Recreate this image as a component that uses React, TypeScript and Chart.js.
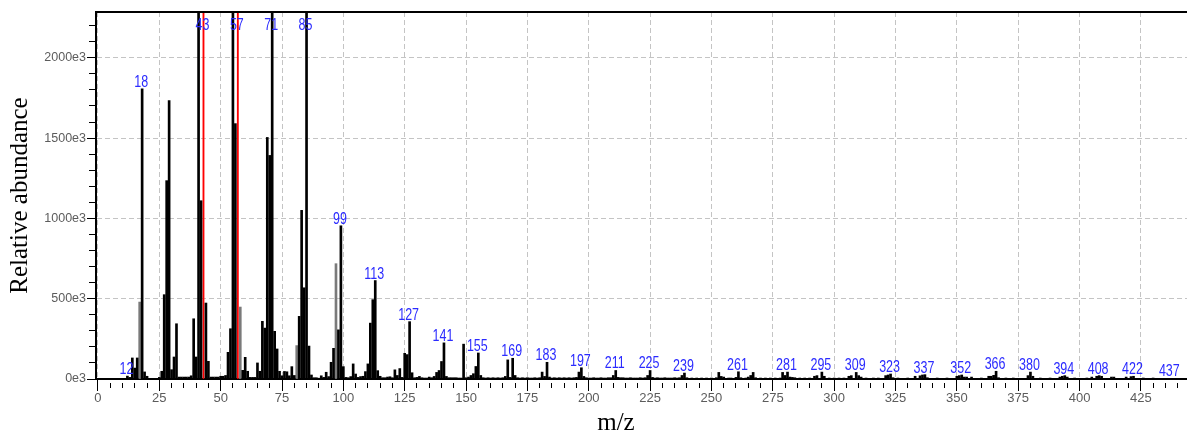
import React, { useEffect, useRef } from 'react';
import { Chart, registerables } from 'chart.js';

Chart.register(...registerables);

// ---- data (m/z and relative abundance in units of 1e3) ----
const MZ = [
  12, 13, 14, 15, 16, 17, 18, 19, 20, 25, 26, 27, 28, 29, 30, 31, 32, 33, 34, 35, 36, 37, 38, 39, 40,
  41, 42, 43, 44, 45, 46, 47, 48, 49, 50, 51, 52, 53, 54, 55, 56, 57, 58, 59, 60, 61, 62, 63, 64, 65,
  66, 67, 68, 69, 70, 71, 72, 73, 74, 75, 76, 77, 78, 79, 80, 81, 82, 83, 84, 85, 86, 87, 88, 89, 90,
  91, 92, 93, 94, 95, 96, 97, 98, 99, 100, 101, 102, 103, 104, 105, 106, 107, 108, 109, 110, 111, 112, 113, 114, 115,
  116, 117, 118, 119, 120, 121, 122, 123, 124, 125, 126, 127, 128, 129, 130, 131, 132, 133, 134, 135, 136, 137, 138, 139, 140,
  141, 142, 143, 144, 145, 146, 147, 148, 149, 150, 151, 152, 153, 154, 155, 156, 157, 158, 159, 160, 161, 162, 163, 164, 165,
  166, 167, 168, 169, 170, 171, 172, 173, 174, 175, 176, 177, 178, 179, 180, 181, 182, 183, 184, 185, 186, 187, 188, 189, 190,
  191, 192, 193, 194, 195, 196, 197, 198, 199, 200, 201, 202, 203, 204, 205, 206, 207, 208, 209, 210, 211, 212, 213, 214, 215,
  216, 217, 218, 219, 220, 221, 222, 223, 224, 225, 226, 227, 228, 229, 230, 231, 232, 233, 234, 235, 236, 237, 238, 239, 240,
  242, 244, 246, 248, 250, 252, 253, 254, 255, 257, 258, 260, 261, 262, 264, 265, 266, 267, 268, 270, 272, 274, 276, 278, 279,
  280, 281, 282, 283, 284, 286, 288, 290, 292, 293, 295, 296, 298, 300, 302, 304, 306, 307, 309, 310, 311, 313, 316, 318, 321,
  322, 323, 324, 326, 330, 333, 335, 336, 337, 338, 342, 346, 350, 351, 352, 353, 354, 356, 360, 363, 364, 365, 366, 367, 370,
  373, 379, 380, 381, 384, 388, 392, 393, 394, 395, 398, 403, 405, 407, 408, 409, 413, 414, 419, 421, 422, 426, 430, 437,
];

const ABUNDANCE = [
  18, 10, 131, 68, 131, 479, 1807, 44, 17, 10, 48, 525, 1235, 1733, 58, 137, 344, 12, 12, 12, 12, 12, 20, 375, 137,
  2600, 1110, 3000, 473, 110, 12, 12, 12, 12, 17, 17, 22, 166, 313, 2550, 1590, 2900, 448, 54, 135, 48, 10, 10, 10, 100,
  48, 359, 317, 1504, 1392, 2500, 297, 187, 48, 20, 47, 45, 20, 77, 22, 208, 390, 1050, 568, 2400, 205, 25, 8, 8, 5,
  20, 10, 42, 15, 104, 191, 718, 306, 954, 77, 10, 8, 15, 94, 31, 10, 15, 17, 46, 94, 348, 494, 613, 52, 17,
  8, 8, 12, 14, 8, 57, 22, 65, 10, 160, 152, 357, 39, 8, 10, 16, 8, 6, 6, 12, 8, 16, 41, 53, 109,
  225, 16, 8, 8, 8, 8, 6, 6, 217, 8, 12, 22, 33, 78, 162, 22, 8, 6, 8, 6, 8, 6, 8, 6, 8,
  16, 119, 10, 129, 22, 8, 6, 8, 6, 8, 6, 6, 8, 6, 8, 43, 16, 104, 12, 6, 8, 6, 8, 6, 8,
  6, 8, 6, 8, 10, 43, 70, 16, 8, 6, 6, 8, 6, 6, 8, 6, 6, 8, 8, 22, 53, 10, 8, 8, 6,
  6, 8, 6, 6, 6, 8, 6, 8, 22, 53, 10, 6, 8, 6, 6, 8, 6, 6, 6, 8, 6, 8, 22, 37, 8,
  6, 6, 6, 6, 6, 8, 41, 16, 12, 6, 6, 10, 45, 8, 6, 12, 22, 41, 8, 6, 6, 6, 6, 6, 41,
  22, 43, 12, 10, 8, 6, 6, 6, 17, 21, 43, 17, 6, 6, 6, 6, 17, 21, 41, 21, 12, 6, 6, 6, 21,
  25, 31, 8, 6, 6, 17, 20, 25, 27, 8, 6, 6, 17, 21, 25, 12, 12, 12, 6, 17, 17, 23, 48, 8, 6,
  6, 21, 43, 17, 6, 6, 12, 17, 21, 12, 6, 6, 12, 17, 21, 17, 12, 12, 12, 15, 17, 6, 6, 4,
];

const PEAK_LABELS = [
  12, 18, 43, 57, 71, 85, 99, 113, 127, 141, 155, 169, 183, 197, 211, 225, 239, 261, 281,
  295, 309, 323, 337, 352, 366, 380, 394, 408, 422, 437,
];
const RED_PEAKS = [43, 57];
const GRAY_PEAKS = [17, 58, 81, 97];

const X_MIN = -0.8;
const X_MAX = 443.8;
const X_TICK_STEP = 5;
const X_LABEL_STEP = 25;
const Y_MAX = 2285;
const Y_TICK_STEP = 100;
const Y_LABEL_STEP = 500;

const SANS = '"Liberation Sans", Arial, sans-serif';
const SERIF = '"Liberation Serif", "Times New Roman", serif';

const valueOf = (m: number) => {
  const i = MZ.indexOf(m);
  return i >= 0 ? ABUNDANCE[i] : 0;
};

const framePlugin = {
  id: 'frameTop',
  afterDatasetsDraw(chart: any) {
    const { ctx, chartArea } = chart;
    ctx.save();
    ctx.strokeStyle = '#000';
    ctx.lineWidth = 2;
    ctx.beginPath();
    ctx.moveTo(chartArea.left - 1, chartArea.top);
    ctx.lineTo(chartArea.right, chartArea.top);
    ctx.stroke();
    ctx.restore();
  },
};

const peakLabelPlugin = {
  id: 'peakLabels',
  afterDatasetsDraw(chart: any) {
    const { ctx, chartArea, scales } = chart;
    const squeeze = 0.78;
    ctx.save();
    ctx.font = `16px ${SANS}`;
    ctx.fillStyle = '#2b2bff';
    ctx.textAlign = 'center';
    ctx.textBaseline = 'alphabetic';
    PEAK_LABELS.forEach((m) => {
      const v = Math.min(valueOf(m), Y_MAX);
      const x = scales.x.getPixelForValue(m) - 1;
      const top = scales.y.getPixelForValue(v);
      const y = Math.max(top - 2, chartArea.top + 18);
      ctx.save();
      ctx.translate(x, y);
      ctx.scale(squeeze, 1);
      ctx.fillText(String(m), 0, 0);
      ctx.restore();
    });
    ctx.restore();
  },
};

const xTitlePlugin = {
  id: 'xTitle',
  afterDraw(chart: any) {
    const { ctx, chartArea } = chart;
    ctx.save();
    ctx.font = `25px ${SERIF}`;
    ctx.fillStyle = '#000';
    ctx.textAlign = 'center';
    ctx.textBaseline = 'alphabetic';
    const cx = chartArea.left + (chartArea.right - chartArea.left) * 0.4766;
    ctx.fillText('m/z', cx, 430);
    ctx.restore();
  },
};

export default function App() {
  const canvasRef = useRef<HTMLCanvasElement | null>(null);

  useEffect(() => {
    if (!canvasRef.current) return;
    const points = MZ.map((m, i) => ({ x: m, y: ABUNDANCE[i] }));
    const black = points.filter((p) => !RED_PEAKS.includes(p.x) && !GRAY_PEAKS.includes(p.x));
    const gray = points.filter((p) => GRAY_PEAKS.includes(p.x));
    const red = points.filter((p) => RED_PEAKS.includes(p.x));

    const common = { grouped: false, borderWidth: 0, clip: 0 };

    const chart = new Chart(canvasRef.current, {
      type: 'bar',
      data: {
        datasets: [
          { ...common, data: black, backgroundColor: '#000000', barThickness: 2 },
          { ...common, data: gray, backgroundColor: '#7a7a7a', barThickness: 2 },
          { ...common, data: red, backgroundColor: '#ff0000', barThickness: 1.2 },
        ] as any,
      },
      options: {
        animation: false,
        responsive: false,
        devicePixelRatio: 1,
        layout: { padding: { top: 12, left: 0, right: 0, bottom: 0 } },
        plugins: { legend: { display: false }, tooltip: { enabled: false }, title: { display: false } },
        scales: {
          x: {
            type: 'linear',
            min: X_MIN,
            max: X_MAX,
            offset: false,
            grid: {
              offset: false,
              lineWidth: 1,
              color: (c: any) => (c.tick && c.tick.value % X_LABEL_STEP === 0 ? '#c4c4c4' : 'transparent'),
              tickColor: '#000',
              tickWidth: 1,
              tickLength: 12,
              tickBorderDash: (c: any) => (c.tick && c.tick.value % X_LABEL_STEP === 0 ? [] : [0, 3, 5, 100]),
            },
            border: { display: true, color: '#000', width: 2, dash: [5, 3] },
            ticks: {
              stepSize: X_TICK_STEP,
              autoSkip: false,
              maxRotation: 0,
              minRotation: 0,
              includeBounds: false,
              padding: 0,
              color: '#5c5c5c',
              font: { family: SANS, size: 13 },
              callback: (v: any) => (Number(v) % X_LABEL_STEP === 0 ? String(v) : ''),
            },
            afterFit: (s: any) => {
              s.height = 53;
            },
          } as any,
          y: {
            type: 'linear',
            min: 0,
            max: Y_MAX,
            grid: {
              lineWidth: 1,
              color: (c: any) =>
                c.tick && c.tick.value !== 0 && c.tick.value % Y_LABEL_STEP === 0 ? '#c4c4c4' : 'transparent',
              tickColor: '#000',
              tickWidth: 1,
              tickLength: 9,
              tickBorderDash: (c: any) => (c.tick && c.tick.value % Y_LABEL_STEP === 0 ? [] : [0, 2, 6, 100]),
            },
            border: { display: true, color: '#000', width: 2, dash: [5, 3] },
            ticks: {
              stepSize: Y_TICK_STEP,
              includeBounds: false,
              autoSkip: false,
              padding: 1,
              color: '#5c5c5c',
              font: { family: SANS, size: 12.5 },
              callback: (v: any) => (Number(v) % Y_LABEL_STEP === 0 ? `${v}e3` : ''),
            },
            title: {
              display: true,
              text: 'Relative abundance',
              color: '#000',
              font: { family: SERIF, size: 25 },
              padding: { top: 5, bottom: 0 },
            },
            afterFit: (s: any) => {
              s.width = 96;
            },
          } as any,
        },
      } as any,
      plugins: [framePlugin, peakLabelPlugin, xTitlePlugin],
    });

    return () => chart.destroy();
  }, []);

  return (
    <div style={{ position: 'absolute', left: 0, top: 0, width: 1187, height: 432, background: '#fff' }}>
      <canvas ref={canvasRef} width={1187} height={432} style={{ display: 'block' }} />
    </div>
  );
}
